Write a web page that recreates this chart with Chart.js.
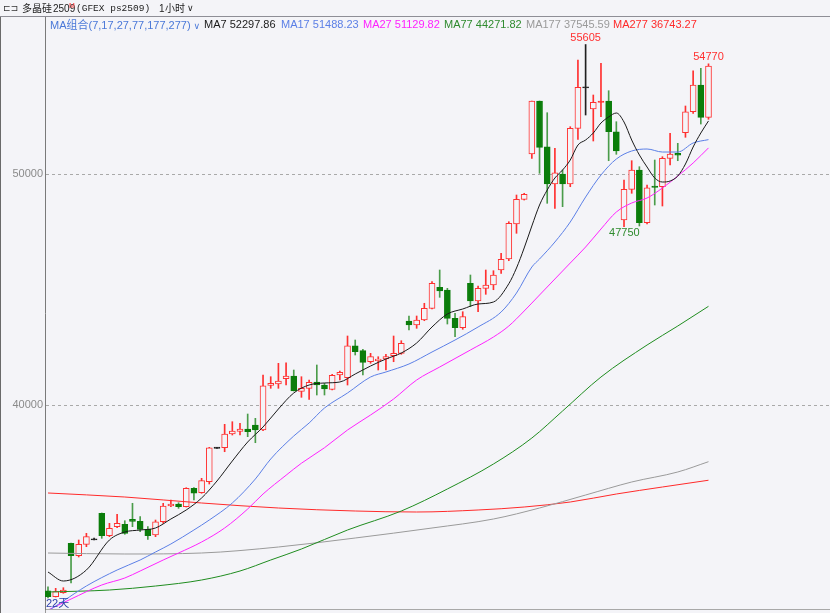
<!DOCTYPE html>
<html>
<head>
<meta charset="utf-8">
<script src="https://cdn.jsdelivr.net/npm/chart.js@4.4.1/dist/chart.umd.min.js"></script>
<style>
    html, body { margin: 0; padding: 0; background: #f4f4f8; }
    body { width: 830px; height: 613px; position: relative; overflow: hidden;
           font-family: "Liberation Sans", Arial, "Noto Sans CJK SC", sans-serif; }
    #chart { position: absolute; left: 0; top: 0; }
    .hdr { position: absolute; left: 0; top: 0; width: 830px; height: 16px; border-bottom: 1px solid #8e8e96; z-index: 2; }
    .edge { position: absolute; left: 0; top: 16px; width: 1px; height: 597px; background: #6a6a6a; }
    .t { position: absolute; white-space: nowrap; line-height: 12px; }
    .hdr .t { top: 2px; font-size: 11px; color: #222; }
    .leg { top: 18px; font-size: 11px; }
    .cjk { font-family: "Noto Sans CJK SC", sans-serif; }
    .mono { font-family: "Liberation Mono", "DejaVu Sans Mono", monospace; }
</style>
</head>
<body>
<canvas id="chart" width="830" height="613"></canvas>

<div class="hdr">
    <span class="t" style="left:3px;font-family:'DejaVu Sans';font-size:9px;color:#333;">⊏⊐</span>
    <span class="t cjk" style="left:22px;font-size:10px;">多晶硅</span>
    <span class="t" style="left:53px;top:3px;font-size:10px;">2509</span>
    <span class="t" style="left:69px;top:0px;font-size:7px;color:#ff3b3b;">M</span>
    <span class="t mono" style="left:76px;top:3px;font-size:9.5px;">(GFEX ps2509)</span>
    <span class="t" style="left:159px;top:3px;font-size:10px;">1</span>
    <span class="t cjk" style="left:165px;font-size:10px;">小时</span>
    <span class="t" style="left:187px;font-family:'DejaVu Sans';font-size:9px;">∨</span>
</div>
<div class="edge"></div>

<span class="t leg" style="left:50px;color:#4a78d8;">MA<span class="cjk">组合</span>(7,17,27,77,177,277)<span style="font-family:'DejaVu Sans';font-size:9px;"> ∨</span></span>
<span class="t leg" style="left:204px;color:#1a1a1a;">MA7 52297.86</span>
<span class="t leg" style="left:281px;color:#5b7fe6;">MA17 51488.23</span>
<span class="t leg" style="left:363px;color:#ff22ff;">MA27 51129.82</span>
<span class="t leg" style="left:444px;color:#2e8b2e;">MA77 44271.82</span>
<span class="t leg" style="left:526px;color:#9a9a9a;">MA177 37545.59</span>
<span class="t leg" style="left:613px;color:#ff2a2a;">MA277 36743.27</span>

<span class="t" style="left:46px;top:596px;font-size:11px;color:#2a3caa;">22<span class="cjk">天</span></span>

<script>
// hourly candles, index 0 = first bar on screen
const opens  = [31961,31701,31875,34013,33476,33970,34186,35312,34342,34732,34835,35052,34965,34619,34372,34948,35628,35714,35597,36394,
                36204,36680,38151,38151,38745,38861,38961,39134,38918,40853,40909,41138,41255,40593,40723,40996,40866,40680,41299,41182,
                42567,42351,41874,41918,41991,42134,42238,43636,43463,43680,44186,45095,44978,43753,43346,45268,44502,45052,45195,45844,
                46320,47836,48905,50866,53160,51182,49567,50000,49567,51978,53753,52814,53125,53160,51831,48009,49338,50173,47892,49481,
                49450,50680,50866,51788,52697,53853,52455];
const highs  = [32134,32064,32091,34026,34156,34446,34242,35325,34879,35269,34991,35745,35165,34732,35021,35745,35887,35770,36420,36420,
                36827,38168,38170,39164,39277,39208,39610,39424,41299,41225,41805,41831,41515,41225,41082,41732,40939,41329,41472,42987,
                42814,42411,42238,42091,42195,42987,42784,43853,43853,44403,45338,45844,45052,43970,44039,45628,45152,45844,45814,46567,
                47935,49091,49165,53160,53160,52654,51113,50173,52048,54935,55605,53420,54792,53606,52264,49740,50576,50316,49524,50606,
                50749,51762,51329,52944,54472,54576,54770];
const lows   = [31645,31688,31849,32294,33420,33866,34156,34229,34299,34689,34403,34732,34515,34186,34299,34879,35597,35527,35584,35887,
                36178,36580,38120,37978,38701,38701,38628,38368,38888,40723,40723,40866,40606,40333,40247,40433,40433,40649,41082,40866,
                42165,41299,41805,41515,41515,41874,42195,43247,43320,43649,44156,44662,43506,42957,43277,44255,44039,44792,44991,45701,
                46247,47433,48874,50680,50030,48732,48515,48585,49450,51502,52554,51429,52481,50576,50853,47719,49165,47750,47836,48658,
                48615,50390,50576,51589,52628,52164,52368];
const closes = [31701,31918,31991,33476,33970,34300,34186,34342,34662,34879,34446,34965,34619,34342,34948,35628,35714,35597,36394,36178,
                36723,38151,38151,38745,38875,38961,38845,38918,40835,40939,41039,41255,40606,40723,40983,40866,40693,41286,41416,42567,
                42307,41848,42091,41991,42091,42238,42671,43463,43680,44186,45268,44935,43753,43346,43823,44502,45052,45195,45628,46307,
                47866,48905,49121,53160,51156,49567,50056,49567,51978,53753,53753,53104,53130,51831,50996,49338,50173,47892,49407,49424,
                50680,50866,50836,52697,53853,52455,54675];

// moving averages (candle index -> value)
const ma7Idx = [0,2,5,8,10,12,14,16,18,20,22,24,26,28,30,32,34,36,38,40,42,44,46,48,50,52,54,56,58,60,61,62,63,64,65,66,67,68,69,70,
                71,72,73,74,75,76,77,78,79,80,81,82,83,84,85,86];
const ma7Val = [32770,32381,32857,34156,34502,34588,34675,35065,35455,35974,36710,37576,38398,39048,39827,40520,40866,40953,40996,41342,
                41688,41991,42251,42684,43377,43939,44156,44372,44459,45250,45931,46797,47750,48658,49307,49827,50173,50606,51255,51472,
                51775,52208,52468,52641,52251,51472,50823,50303,49827,49654,49697,49913,50433,51169,51775,52298];
const ma17Idx = [0,2,5,9,12,14,16,19,21,24,27,29,32,34,36,39,42,44,47,50,53,56,59,61,63,64,66,68,70,72,74,76,78,80,82,84,86];
const ma17Val = [31082,31515,32165,32857,33290,33636,33983,34589,35021,35758,36797,37663,38658,39221,39870,40520,41212,41429,41775,42294,
                 42814,43377,44026,44848,45974,46320,47056,47922,49004,49957,50649,50996,51082,50952,50952,51342,51488];
const ma27Idx = [0,3,7,10,12,15,17,20,23,26,28,31,33,36,39,42,45,48,51,55,58,60,62,64,66,68,70,72,74,76,78,80,82,84,86];
const ma27Val = [31125,31601,32208,32511,32814,33290,33593,34069,34675,35498,36147,36960,37480,38150,38918,39567,40260,41082,41645,42381,
                 42944,43420,44069,44762,45455,46147,46840,47619,48355,48745,48961,49394,49913,50476,51130];
const ma77Idx = [0,8,14,20,25,29,33,39,46,52,58,63,67,72,78,82,86];
const ma77Val = [31905,31991,32164,32424,32814,33290,33766,34589,35411,36364,37446,38571,39740,41212,42597,43420,44272];
const ma177Idx = [0,10,20,30,40,50,58,64,70,76,82,86];
const ma177Val = [33593,33550,33593,33853,34242,34675,35065,35541,36104,36667,37100,37546];
const ma277Idx = [0,10,20,30,40,48,56,62,68,74,80,86];
const ma277Val = [36191,36017,35758,35541,35411,35368,35455,35584,35801,36147,36450,36743];

const yTicks = [40000, 50000];
const peakLabels = [70, 86];   // candles whose high is printed
const troughLabels = [77];     // candles whose low is printed

const RED = '#ff3030';
const GREEN = '#0b7d0b';
const GREEN_WICK = '#4a9c4a';
const DOJI = '#202020';
const BG = '#f4f4f8';

const dir = i => closes[i] > opens[i] ? 1 : closes[i] < opens[i] ? -1 : 0;
const strokeOf = i => dir(i) > 0 ? RED : dir(i) < 0 ? GREEN : DOJI;

const wickData = highs.map((h, i) => ({ x: i, y: [lows[i], h] }));
const bodyData = opens.map((o, i) => {
    const lo = Math.min(o, closes[i]), hi = Math.max(o, closes[i]);
    // keep flat candles visible as a thin dash
    return { x: i, y: hi - lo < 50 ? [lo - 25, hi + 25] : [lo, hi] };
});
const bodyFill = opens.map((o, i) => {
    const flat = Math.abs(closes[i] - o) < 50;
    return dir(i) > 0 && !flat ? BG : strokeOf(i);
});
const wickColors = opens.map((o, i) => dir(i) < 0 ? GREEN_WICK : strokeOf(i));

const pts = (idx, vals) => idx.map((x, k) => ({ x, y: vals[k] }));
const maLine = (label, idx, vals, color) => ({
    type: 'line', label, data: pts(idx, vals), borderColor: color, borderWidth: 1,
    pointRadius: 0, cubicInterpolationMode: 'monotone', order: 0
});

const extremaLabels = {
    id: 'extremaLabels',
    afterDatasetsDraw(chart) {
        const { ctx, scales: { x, y } } = chart;
        ctx.save();
        ctx.font = '11px "Liberation Sans", Arial, sans-serif';
        ctx.textAlign = 'center';
        ctx.fillStyle = RED;
        ctx.textBaseline = 'bottom';
        peakLabels.forEach(i => ctx.fillText(String(highs[i]), x.getPixelForValue(i), y.getPixelForValue(highs[i]) - 1));
        ctx.fillStyle = '#2e8b2e';
        ctx.textBaseline = 'top';
        troughLabels.forEach(i => ctx.fillText(String(lows[i]), x.getPixelForValue(i) - 15, y.getPixelForValue(lows[i]) + 1));
        ctx.restore();
    }
};

new Chart(document.getElementById('chart'), {
    type: 'bar',
    data: {
        datasets: [
            maLine('MA7', ma7Idx, ma7Val, '#1a1a1a'),
            maLine('MA17', ma17Idx, ma17Val, '#5b7fe6'),
            maLine('MA27', ma27Idx, ma27Val, '#ff22ff'),
            maLine('MA77', ma77Idx, ma77Val, '#1f8c1f'),
            maLine('MA177', ma177Idx, ma177Val, '#9a9a9a'),
            maLine('MA277', ma277Idx, ma277Val, '#ff2a2a'),
            {
                label: 'body', data: bodyData, order: 1, grouped: false, barThickness: 6,
                backgroundColor: bodyFill, borderColor: opens.map((o, i) => strokeOf(i)),
                borderWidth: 1, borderSkipped: false
            },
            {
                label: 'wick', data: wickData, order: 2, grouped: false, barThickness: 1,
                backgroundColor: wickColors, borderWidth: 0
            }
        ]
    },
    options: {
        responsive: false,
        animation: false,
        devicePixelRatio: 1,
        layout: { padding: { top: 17, right: 0, bottom: 0, left: 0 } },
        plugins: { legend: { display: false }, tooltip: { enabled: false } },
        scales: {
            x: {
                type: 'linear', offset: false, min: -0.39, max: 101.82,
                afterBuildTicks: s => { s.ticks = [{ value: 82.55 }]; },
                afterFit: s => { s.height = 4; s.paddingLeft = 0; s.paddingRight = 0; },
                ticks: { display: false },
                grid: { display: true, drawOnChartArea: false, drawTicks: true, tickLength: 4, color: '#9a9a9a' },
                border: { display: true, color: '#a8a8a8' }
            },
            y: {
                min: 31169, max: 56797,
                afterBuildTicks: s => { s.ticks = yTicks.map(v => ({ value: v })); },
                afterFit: s => { s.width = 45; s.paddingTop = 0; s.paddingBottom = 0; },
                ticks: { color: '#8a8a8a', font: { size: 11, family: '"Liberation Sans", Arial' }, padding: 2,
                         callback: v => String(v) },
                grid: { color: '#a9a9a9', drawTicks: false },
                border: { display: true, color: '#7a7a7a', dash: [3, 3] }
            }
        }
    },
    plugins: [extremaLabels]
});
</script>
</body>
</html>
